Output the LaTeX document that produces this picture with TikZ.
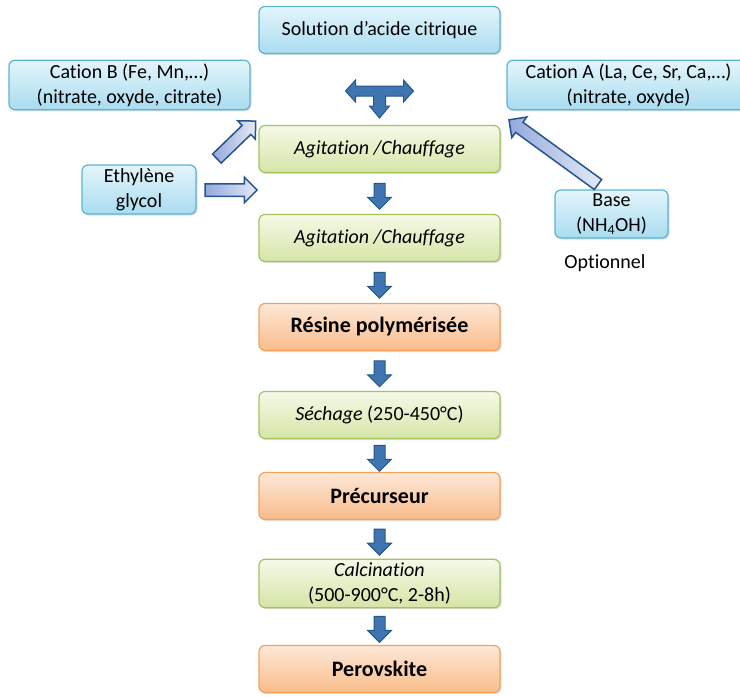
\documentclass[tikz,border=0pt]{standalone}
\usepackage{fontspec}
\setmainfont{Carlito}[Ligatures={NoCommon}]
\usetikzlibrary{shapes.arrows,shadows,calc}

\definecolor{blueline}{HTML}{5AB4D0}
\definecolor{bluetop}{HTML}{E4F5FB}
\definecolor{bluebot}{HTML}{A9DCF0}
\definecolor{greenline}{HTML}{A5C25F}
\definecolor{greentop}{HTML}{F5F9E8}
\definecolor{greenbot}{HTML}{D5E5A6}
\definecolor{orangeline}{HTML}{F4A15A}
\definecolor{orangetop}{HTML}{FDE8D8}
\definecolor{orangebot}{HTML}{F9BC8A}
\definecolor{arrline}{HTML}{24558C}
\definecolor{arrfill}{HTML}{3F76B1}
\definecolor{lightfill}{HTML}{94A9DC}

\tikzset{
    box/.style={rounded corners=6pt, minimum width=241pt, minimum height=47pt,
        align=center, line width=1.2pt, font=\fontsize{20}{25}\selectfont,
        drop shadow={shadow xshift=1.5pt, shadow yshift=-1.5pt, opacity=0.25}},
    bluebox/.style={box, draw=blueline, top color=bluetop, bottom color=bluebot},
    greenbox/.style={box, draw=greenline, top color=greentop, bottom color=greenbot},
    orangebox/.style={box, draw=orangeline, top color=orangetop, bottom color=orangebot,
        font=\fontsize{22}{26}\selectfont\bfseries},
    downarrow/.style={single arrow, draw=arrline, fill=arrfill, line width=1pt,
        inner sep=5pt, minimum width=23pt, single arrow head extend=6.5pt,
        minimum height=26pt, rotate=-90},
    lightarrow/.style={single arrow, draw=arrline, line width=1.5pt,
        left color=lightfill, right color=lightfill!25,
        inner sep=5.5pt, minimum width=25pt, single arrow head extend=6.5pt}
}

\begin{document}
\begin{tikzpicture}[x=1pt,y=-1pt]
\useasboundingbox (0,0) rectangle (740,697);
\clip (0,0) rectangle (740,697);

\begin{scope}
    \node[bluebox] (sol) at (379.5, 30) {Solution d’acide citrique};
    \node[bluebox] (catB) at (129.5, 85) {Cation B (Fe, Mn,…)\\(nitrate, oxyde, citrate)};
    \node[bluebox, minimum width=243pt] (catA) at (628.5, 85) {Cation A (La, Ce, Sr, Ca,…)\\(nitrate, oxyde)};
    \node[bluebox, minimum width=114pt, minimum height=49pt] (eg) at (139, 189.5) {Ethylène\\glycol};
    \node[bluebox, minimum width=113pt, minimum height=48pt] (base) at (611.5, 214) {Base\\(NH\textsubscript{4}OH)};
    \node[font=\fontsize{20}{25}\selectfont] (opt) at (605, 263) {Optionnel};
\end{scope}

\begin{scope}
    \node[greenbox] (ag1) at (379.5, 149) {\itshape Agitation /Chauffage};
    \node[greenbox] (ag2) at (379.5, 238) {\itshape Agitation /Chauffage};
    \node[orangebox] (res) at (379.5, 327) {Résine polymérisée};
    \node[greenbox] (sech) at (379.5, 415) {\textit{Séchage} (250-450°C)};
    \node[orangebox] (prec) at (379.5, 496) {Précurseur};
    \node[greenbox] (calc) at (379.5, 583.5) {\textit{Calcination}\\(500-900°C, 2-8h)};
    \node[orangebox] (perov) at (379.5, 669) {Perovskite};
\end{scope}

\begin{scope}
    \node[downarrow] (a1) at ($(ag1.south)!0.5!(ag2.north)$) {};
    \node[downarrow] (a2) at ($(ag2.south)!0.5!(res.north)$) {};
    \node[downarrow] (a3) at ($(res.south)!0.5!(sech.north)$) {};
    \node[downarrow] (a4) at ($(sech.south)!0.5!(prec.north)$) {};
    \node[downarrow] (a5) at ($(prec.south)!0.5!(calc.north)$) {};
    \node[downarrow] (a6) at ($(calc.south)!0.5!(perov.north)$) {};
\end{scope}

\coordinate (t) at (sol.south |- 0,91);
\draw[draw=arrline, fill=arrfill, line width=1pt]
    ($(t)+(-34,0)$) -- ++(10,-11) -- ++(0,6) -- ++(48,0) -- ++(0,-6) -- ++(10,11)
    -- ++(-10,11) -- ++(0,-6) -- ++(-18,0) -- ++(0,10) -- ++(4,0) -- ++(-10,12)
    -- ++(-10,-12) -- ++(4,0) -- ++(0,-10) -- ++(-18,0) -- ++(0,6) -- cycle;

\begin{scope}
    \node[lightarrow, minimum height=52pt] (eg1) at (228, 190) {};
    \node[lightarrow, minimum height=54pt, rotate=44] (eg2) at (234, 142) {};
    \node[lightarrow, minimum height=110pt, rotate=144] (bs) at (556, 154) {};
\end{scope}

\end{tikzpicture}
\end{document}
